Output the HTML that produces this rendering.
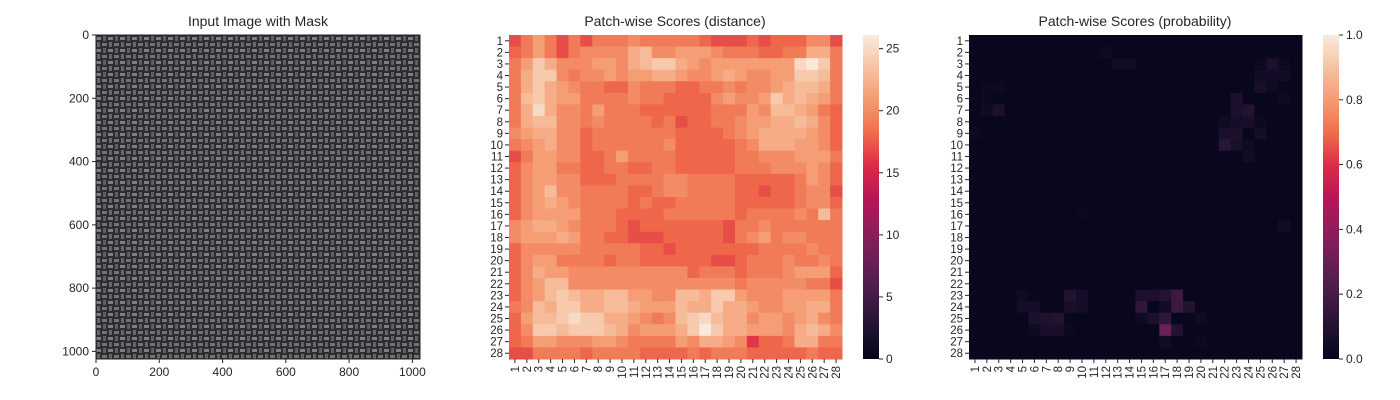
<!DOCTYPE html>
<html><head><meta charset="utf-8">
<style>
html,body{margin:0;padding:0;background:#fff;}
svg{display:block;font-family:"Liberation Sans",Arial,sans-serif;}
</style></head>
<body>
<svg id="fig" width="1400" height="400" viewBox="0 0 1400 400" xmlns="http://www.w3.org/2000/svg">
<defs>
<pattern id="weave" width="12" height="12" patternUnits="userSpaceOnUse">
<rect width="12" height="12" fill="#2f2c30"/>
<rect x="0" y="1" width="5" height="3" fill="#7b8087"/>
<rect x="6" y="7" width="5" height="3" fill="#6e7379"/>
<rect x="7" y="0" width="3" height="5" fill="#5d6066"/>
<rect x="1" y="6" width="3" height="5" fill="#64676d"/>
</pattern>
<linearGradient id="rocketV" x1="0" y1="1" x2="0" y2="0">
<stop offset="0" stop-color="#03051A"/><stop offset="0.1" stop-color="#221331"/><stop offset="0.2" stop-color="#451C47"/><stop offset="0.3" stop-color="#6A1F56"/><stop offset="0.4" stop-color="#921C5B"/><stop offset="0.5" stop-color="#B91657"/><stop offset="0.6" stop-color="#DD2C45"/><stop offset="0.7" stop-color="#F06E4B"/><stop offset="0.8" stop-color="#F59B73"/><stop offset="0.9" stop-color="#F6C2A2"/><stop offset="1" stop-color="#FAEBDD"/>
</linearGradient>
</defs>
<g id="p1">
<text x="258" y="26" font-size="14" text-anchor="middle" fill="#262626">Input Image with Mask</text>
<rect x="96" y="35" width="324" height="324" fill="url(#weave)"/>
<rect x="96" y="35" width="324" height="324" fill="none" stroke="#262626" stroke-width="1"/>
</g>
<g id="p2">
<text x="675" y="26" font-size="14" text-anchor="middle" fill="#262626">Patch-wise Scores (distance)</text>
</g>
<g id="p3">
<text x="1135" y="26" font-size="14" text-anchor="middle" fill="#262626">Patch-wise Scores (probability)</text>
</g>
</svg>
<script>
const imgTicks = [0, 200, 400, 600, 800, 1000];
const distVmax = 26.1;
const distTicks = [0, 5, 10, 15, 20, 25];
const probTicks = [0.0, 0.2, 0.4, 0.6, 0.8, 1.0];
const patchLabels = Array.from({length:28},(_,i)=>String(i+1));
const distRows = [
[17,19,21,19,17,19,17,19,19,19,20,19,19,19,19,19,18,17,17,17,18,17,18,18,18,20,20,17],
[18,19,21,19,17,19,20,20,20,20,22,23,20,20,21,21,21,20,19,19,19,18,18,19,19,22,22,19],
[19,21,24,22,20,20,20,21,21,20,22,23,24,24,22,21,20,21,21,21,21,21,21,21,25,26,24,19],
[19,22,24,24,20,19,20,20,21,20,21,21,22,22,21,20,20,21,22,21,20,20,21,21,24,24,23,19],
[19,22,24,22,21,20,19,19,18,18,20,19,19,19,18,18,19,19,20,19,20,20,21,22,23,23,22,19],
[19,23,24,22,21,21,19,19,19,19,20,19,19,18,18,18,18,20,21,20,20,21,24,22,23,22,21,19],
[19,22,25,22,20,20,19,21,19,19,19,18,18,18,18,18,18,19,19,19,21,20,23,23,22,21,19,18],
[19,22,23,23,20,20,19,20,19,19,19,19,18,19,17,18,18,19,19,20,21,21,22,22,23,22,20,18],
[20,21,22,22,20,20,18,19,19,19,19,19,19,19,18,18,18,18,19,20,21,22,22,22,22,21,20,18],
[19,20,21,22,20,20,18,19,19,19,19,19,19,20,18,18,18,18,18,19,20,22,22,22,21,21,20,18],
[17,19,21,21,20,20,18,18,19,21,19,19,19,19,18,18,18,18,18,19,19,20,20,20,21,21,21,19],
[18,20,21,21,19,19,18,18,19,19,18,18,19,19,18,18,18,18,18,19,19,19,20,20,20,21,20,18],
[18,20,21,21,20,20,18,18,18,19,19,19,19,20,20,19,19,19,19,18,18,18,18,18,19,21,20,18],
[18,20,21,23,20,20,19,19,19,19,18,18,19,20,20,19,19,19,19,18,18,17,18,18,19,20,20,17],
[18,20,21,22,21,20,19,19,19,19,18,19,18,18,19,19,19,19,19,18,18,18,18,18,19,20,20,18],
[18,20,21,21,21,21,19,19,19,18,18,18,18,19,19,19,19,19,19,18,19,19,19,19,20,19,23,19],
[20,21,22,22,21,20,19,19,19,18,17,18,18,18,18,18,18,18,17,19,19,20,19,19,19,19,19,19],
[20,21,21,21,22,21,19,19,18,18,17,17,17,18,18,18,18,18,17,19,20,21,19,20,20,19,19,19],
[18,20,20,20,20,20,19,19,19,19,19,18,18,17,18,18,18,18,18,18,18,19,19,19,19,20,19,19],
[18,20,21,21,19,19,19,19,18,19,19,18,18,18,18,18,18,17,17,18,19,19,19,20,19,19,20,19],
[18,20,22,21,21,20,20,20,20,20,20,20,20,20,20,18,19,19,19,18,19,19,19,20,21,21,21,18],
[18,20,21,23,23,20,20,20,20,20,20,20,20,20,20,20,20,20,20,19,20,20,20,20,20,19,19,17],
[18,20,21,23,24,23,22,22,23,23,21,21,20,20,23,23,22,24,24,21,20,20,20,21,21,21,21,19],
[19,20,23,22,24,24,22,22,23,23,22,21,21,21,23,22,22,24,22,22,21,20,20,21,21,22,22,19],
[18,21,23,23,24,25,24,24,22,22,21,20,19,20,23,24,25,23,22,22,20,21,21,20,21,22,20,19],
[18,20,24,24,23,24,24,24,23,22,20,21,21,21,22,24,26,24,22,22,21,21,21,20,22,23,22,20],
[18,19,21,21,20,20,20,21,21,20,19,19,19,19,21,20,22,22,21,20,16,18,18,19,22,22,19,19],
[17,17,19,19,19,19,18,19,19,19,19,18,18,18,18,19,18,19,19,19,18,18,18,18,18,19,18,18]
];
const probBase = 0.015;
const probRow = [2,2,3,3,3,3,3,4,4,4,4,5,5,5,5,6,6,6,7,7,7,7,7,8,8,8,8,9,9,9,9,10,10,10,11,16,17,18,23,23,23,23,23,23,23,23,24,24,24,24,24,24,24,24,24,25,25,25,25,25,25,25,26,26,26,26,26,26,26,27,27];
const probCol = [11,12,13,14,25,26,27,5,25,26,27,2,3,25,26,27,2,23,24,2,3,23,24,25,22,23,24,25,1,22,23,24,22,23,24,10,27,4,5,5,9,10,15,16,17,18,19,5,6,9,10,15,16,17,18,20,6,7,8,15,16,17,18,6,7,8,9,17,18,20,17,18].slice(0,71);
const probVal = [0.02,0.04,0.05,0.05,0.03,0.08,0.03,0.02,0.05,0.05,0.05,0.03,0.03,0.07,0.04,0.04,0.03,0.08,0.03,0.04,0.08,0.08,0.1,0.03,0.04,0.06,0.07,0.06,0.03,0.07,0.08,0.04,0.12,0.07,0.05,0.03,0.05,0.02,0.04,0.04,0.1,0.06,0.08,0.08,0.1,0.17,0.1,0.06,0.06,0.07,0.06,0.14,0.01,0.05,0.17,0.04,0.08,0.09,0.1,0.04,0.08,0.14,0.03,0.04,0.07,0.07,0.03,0.3,0.1,0.03,0.05,0.04];

const stops=[[3,5,26],[34,19,49],[69,28,71],[106,31,86],[146,28,91],[185,22,87],[221,44,69],[240,110,75],[245,155,115],[246,194,162],[250,235,221]];
function rocket(t){t=Math.max(0,Math.min(1,t));const f=t*10,i=Math.min(9,Math.floor(f)),u=f-i;const a=stops[i],b=stops[i+1];return `rgb(${a.map((v,k)=>Math.round(v+(b[k]-v)*u)).join(',')})`;}
const NS="http://www.w3.org/2000/svg";
function mk(tag,attrs,parent,text){const e=document.createElementNS(NS,tag);for(const k in attrs)e.setAttribute(k,attrs[k]);if(text!==undefined)e.textContent=text;parent.appendChild(e);return e;}
const TOP=35,BOT=359;

const p1=document.getElementById('p1');
const imgX=v=>96+v/1024*324, imgY=v=>35+v/1024*324;
imgTicks.forEach(v=>{
  mk('line',{x1:imgX(v),y1:BOT,x2:imgX(v),y2:BOT+4,stroke:'#262626'},p1);
  const tx=mk('text',{x:imgX(v),y:BOT+17,'font-size':12,'text-anchor':'middle',fill:'#262626'},p1,String(v));
  
  
  mk('line',{x1:92,y1:imgY(v),x2:96,y2:imgY(v),stroke:'#262626'},p1);
  const ty=mk('text',{x:89,y:imgY(v)+4,'font-size':12,'text-anchor':'end',fill:'#262626'},p1,String(v));
  
  
});

function heatmap(parent,x0,x1,valueAt,vmax,cbX,cbTicks,fmt,name){
  const cw=(x1-x0)/28,ch=(BOT-TOP)/28;
  const g=mk('g',{},parent);
  
  
  for(let r=0;r<28;r++)for(let c=0;c<28;c++){
    const cell=mk('rect',{x:x0+c*cw,y:TOP+r*ch,width:cw+0.5,height:ch+0.5,fill:rocket(valueAt(r,c)/vmax)},g);
    
    
  }
  patchLabels.forEach((lab,i)=>{
    const yc=TOP+(i+0.5)*ch, xc=x0+(i+0.5)*cw;
    mk('line',{x1:x0-4,y1:yc,x2:x0,y2:yc,stroke:'#262626'},parent);
    const t=mk('text',{x:x0-6,y:yc+4,'font-size':11.5,'text-anchor':'end',fill:'#262626'},parent,lab);
    
    
    mk('line',{x1:xc,y1:BOT,x2:xc,y2:BOT+4,stroke:'#262626'},parent);
    const t2=mk('text',{x:xc+4,y:BOT+7,'font-size':11.5,'text-anchor':'end',fill:'#262626',transform:`rotate(-90 ${xc+4} ${BOT+7})`},parent,lab);
    
    
  });
  const cb=mk('rect',{x:cbX,y:TOP,width:16,height:BOT-TOP,fill:'url(#rocketV)'},parent);
  
  
  cbTicks.forEach(v=>{
    const y=BOT-(v/vmax)*(BOT-TOP);
    mk('line',{x1:cbX+16,y1:y,x2:cbX+20,y2:y,stroke:'#262626'},parent);
    const t=mk('text',{x:cbX+23,y:y+4,'font-size':12,fill:'#262626'},parent,fmt(v));
    
    
  });
}
heatmap(document.getElementById('p2'),509,842,(r,c)=>distRows[r][c],distVmax,863,distTicks,v=>String(v),'distance-heatmap');
const probGrid=Array.from({length:28},()=>Array(28).fill(probBase));
probRow.forEach((r,i)=>{probGrid[r-1][probCol[i]-1]=probVal[i];});
heatmap(document.getElementById('p3'),969,1302,(r,c)=>probGrid[r][c],1.0,1323,probTicks,v=>v.toFixed(1),'probability-heatmap');
</script>
</body></html>
